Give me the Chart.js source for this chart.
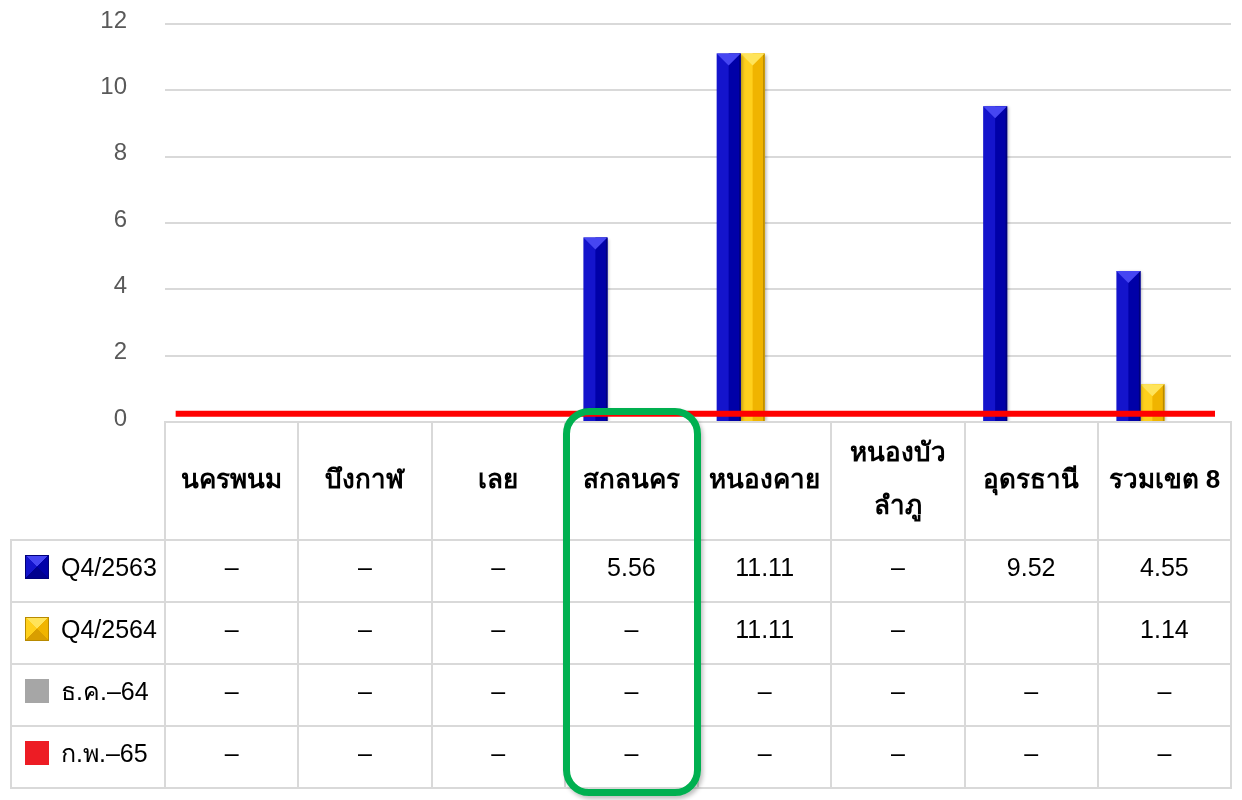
<!DOCTYPE html>
<html>
<head>
<meta charset="utf-8">
<script src="https://cdn.jsdelivr.net/npm/chart.js@4.4.0/dist/chart.umd.min.js"></script>
<style>
  html, body { margin: 0; padding: 0; background: #fff; }
  #wrap { position: relative; width: 1242px; height: 800px; overflow: hidden;
          font-family: "Liberation Sans", Arial, "DejaVu Sans", "Noto Sans", sans-serif; }
  #c { position: absolute; left: 0; top: 0; }
  .ln { position: absolute; background: #d9d9d9; }
  .cell { position: absolute; display: flex; align-items: center; justify-content: center;
          text-align: center; color: #000; font-size: 25px; }
  .hdr { font-weight: bold; font-size: 26px; line-height: 53px; }
  .leg { justify-content: flex-start; }
  .ico { width: 24px; height: 24px; margin-left: 14px; margin-right: 12px; box-sizing: border-box; flex: none; }
  #hl { position: absolute; border: 7px solid #00b050; border-radius: 26px; box-sizing: border-box;
        box-shadow: 2px 3px 4px rgba(0,0,0,0.25); }
</style>
</head>
<body>
<div id="wrap">
  <canvas id="c" width="1242" height="800"></canvas>
</div>
<script>
// ---- data ----
const categories = ['นครพนม', 'บึงกาฬ', 'เลย', 'สกลนคร', 'หนองคาย', ['หนองบัว', 'ลำภู'], 'อุดรธานี', 'รวมเขต 8'];
const seriesNames = ['Q4/2563', 'Q4/2564', 'ธ.ค.–64', 'ก.พ.–65'];
const q4_2563 = [0, 0, 0, 5.56, 11.11, 0, 9.52, 4.55];
const q4_2564 = [0, 0, 0, 0, 11.11, 0, null, 1.14];
const dec64   = [0, 0, 0, 0, 0, 0, 0, 0];
const feb65   = [0, 0, 0, 0, 0, 0, 0, 0];
const yTicks  = [0, 2, 4, 6, 8, 10, 12];
const redLineX = [-0.42, 7.38];
const redLineY = [0.25, 0.25];
const highlightCategory = 'สกลนคร';

// ---- styles ----
const styles = [
  { base: '#1414cc', dark: '#0000a8', light: '#4646f2', edge: '#00007a', face4: '#00008f' },
  { base: '#ffd01c', dark: '#f0b400', light: '#ffe45a', edge: '#b88a00', face4: '#d99e00' },
  { base: '#a6a6a6', dark: '#a6a6a6', light: '#a6a6a6', edge: '#a6a6a6', face4: '#a6a6a6', flat: true },
  { base: '#ed1c24', dark: '#ed1c24', light: '#ed1c24', edge: '#ed1c24', face4: '#ed1c24', flat: true }
];
const allSeries = [q4_2563, q4_2564, dec64, feb65];
const catIndex = categories.map((c, i) => i);

const bevelPlugin = {
  id: 'bevel',
  beforeDatasetDraw(chart, args) {
    const ds = chart.data.datasets[args.index];
    if (ds.type === 'line') return;
    const ctx = chart.ctx;
    ctx.save();
    ctx.shadowColor = 'rgba(0,0,0,0.28)';
    ctx.shadowBlur = 3;
    ctx.shadowOffsetX = 2;
    ctx.shadowOffsetY = 1;
  },
  afterDatasetDraw(chart, args) {
    const ds = chart.data.datasets[args.index];
    if (ds.type === 'line') return;
    const ctx = chart.ctx;
    ctx.restore();
    const st = styles[ds.styleIndex];
    if (st.flat) return;
    const meta = chart.getDatasetMeta(args.index);
    meta.data.forEach((el) => {
      const p = el.getProps(['x', 'y', 'base', 'width'], true);
      const h = p.base - p.y;
      if (!(h > 0.5)) return;
      const l = p.x - p.width / 2, r = p.x + p.width / 2;
      ctx.save();
      ctx.fillStyle = st.dark;
      ctx.fillRect(p.x, p.y, r - p.x, h);
      ctx.fillStyle = st.edge;
      ctx.fillRect(r - 1.5, p.y, 1.5, h);
      const tri = Math.min(p.width / 2, h / 2);
      ctx.fillStyle = st.light;
      ctx.beginPath();
      ctx.moveTo(l, p.y);
      ctx.lineTo(r, p.y);
      ctx.lineTo(p.x, p.y + tri);
      ctx.closePath();
      ctx.fill();
      ctx.restore();
    });
  }
};

const barSets = allSeries.map((d, i) => ({
  type: 'bar',
  label: seriesNames[i],
  styleIndex: i,
  data: d.map((v, k) => ({ x: catIndex[k], y: v })),
  backgroundColor: styles[i].base,
  borderWidth: 0,
  categoryPercentage: 0.72,
  barPercentage: 1.0
}));

const chart = new Chart(document.getElementById('c'), {
  type: 'bar',
  data: {
    datasets: [
      {
        type: 'line',
        label: 'เส้นเกณฑ์',
        data: redLineX.map((x, i) => ({ x: x, y: redLineY[i] })),
        borderColor: '#ff0000',
        borderWidth: 6,
        borderCapStyle: 'butt',
        pointRadius: 0,
        fill: false
      },
      ...barSets
    ]
  },
  options: {
    responsive: false,
    animation: false,
    layout: { padding: { left: 0, right: 11, top: 24, bottom: 378 } },
    plugins: { legend: { display: false }, tooltip: { enabled: false } },
    scales: {
      x: {
        type: 'linear', display: false, offset: false,
        min: -0.5, max: categories.length - 0.5,
        afterBuildTicks(s) { s.ticks = catIndex.map(v => ({ value: v })); }
      },
      y: {
        min: 0, max: 12,
        afterBuildTicks(s) { s.ticks = yTicks.map(v => ({ value: v })); },
        afterFit(s) { s.width = 165; },
        border: { display: false },
        grid: { color: '#d9d9d9', lineWidth: 2, drawTicks: true, tickLength: 38, tickColor: 'rgba(0,0,0,0)' },
        ticks: { padding: 0, labelOffset: -3, color: '#595959', font: { family: 'Liberation Sans, Arial, sans-serif', size: 24 } }
      }
    }
  },
  plugins: [bevelPlugin]
});

// ---- data table (positions derived from chart scales) ----
(function buildTable() {
  const wrap = document.getElementById('wrap');
  const xs = chart.scales.x;
  const n = categories.length;
  const colW = xs.getPixelForValue(1) - xs.getPixelForValue(0);
  const top = Math.round(chart.scales.y.getPixelForValue(0));
  const hdrH = 118, rowH = 62, legLeft = 11;
  const rowsY = [top + hdrH];
  for (let i = 1; i <= seriesNames.length; i++) rowsY.push(top + hdrH + rowH * i);
  const bottom = rowsY[rowsY.length - 1];
  const leftX = xs.getPixelForValue(-0.5), rightX = xs.getPixelForValue(n - 0.5);

  function line(x, y, w, h) {
    const d = document.createElement('div');
    d.className = 'ln';
    d.style.left = x + 'px'; d.style.top = y + 'px';
    d.style.width = w + 'px'; d.style.height = h + 'px';
    wrap.appendChild(d);
  }
  line(leftX - 1, top - 1, rightX - leftX + 2, 2);
  rowsY.forEach(y => line(legLeft - 1, y - 1, rightX - legLeft + 2, 2));
  line(legLeft - 1, rowsY[0] - 1, 2, bottom - rowsY[0] + 2);
  for (let i = 0; i <= n; i++) {
    const x = xs.getPixelForValue(i - 0.5);
    line(x - 1, top - 1, 2, bottom - top + 2);
  }
  function cell(x, y, w, h, html, cls) {
    const d = document.createElement('div');
    d.className = 'cell' + (cls ? ' ' + cls : '');
    d.style.left = x + 'px'; d.style.top = y + 'px';
    d.style.width = w + 'px'; d.style.height = h + 'px';
    d.innerHTML = html;
    wrap.appendChild(d);
    return d;
  }
  categories.forEach((c, i) => {
    const cx = xs.getPixelForValue(i);
    const txt = Array.isArray(c) ? c.join('<br>') : c;
    cell(cx - colW / 2, top - 2, colW, hdrH, txt, 'hdr');
  });
  seriesNames.forEach((s, r) => {
    const y0 = rowsY[r];
    const st = styles[r];
    const ico = st.flat
      ? `background:${st.base};`
      : `background:conic-gradient(from -45deg, ${st.light} 0 25%, ${st.dark} 25% 50%, ${st.face4} 50% 75%, ${st.base} 75% 100%);border:1px solid ${st.edge};`;
    cell(legLeft, y0 - 4, leftX - legLeft, rowH, `<span class="ico" style="${ico}"></span><span>${s}</span>`, 'leg');
    allSeries[r].forEach((v, i) => {
      const cx = xs.getPixelForValue(i);
      const t = v === null ? '' : (v === 0 ? '–' : v.toFixed(2));
      cell(cx - colW / 2, y0 - 4, colW, rowH, t);
    });
  });
  const hi = categories.indexOf(highlightCategory);
  const hx = xs.getPixelForValue(hi);
  const box = document.createElement('div');
  box.id = 'hl';
  box.style.left = (hx - colW / 2 - 2) + 'px';
  box.style.top = (top - 14) + 'px';
  box.style.width = (colW + 5) + 'px';
  box.style.height = (bottom - top + 22) + 'px';
  wrap.appendChild(box);
})();
</script>
</body>
</html>
